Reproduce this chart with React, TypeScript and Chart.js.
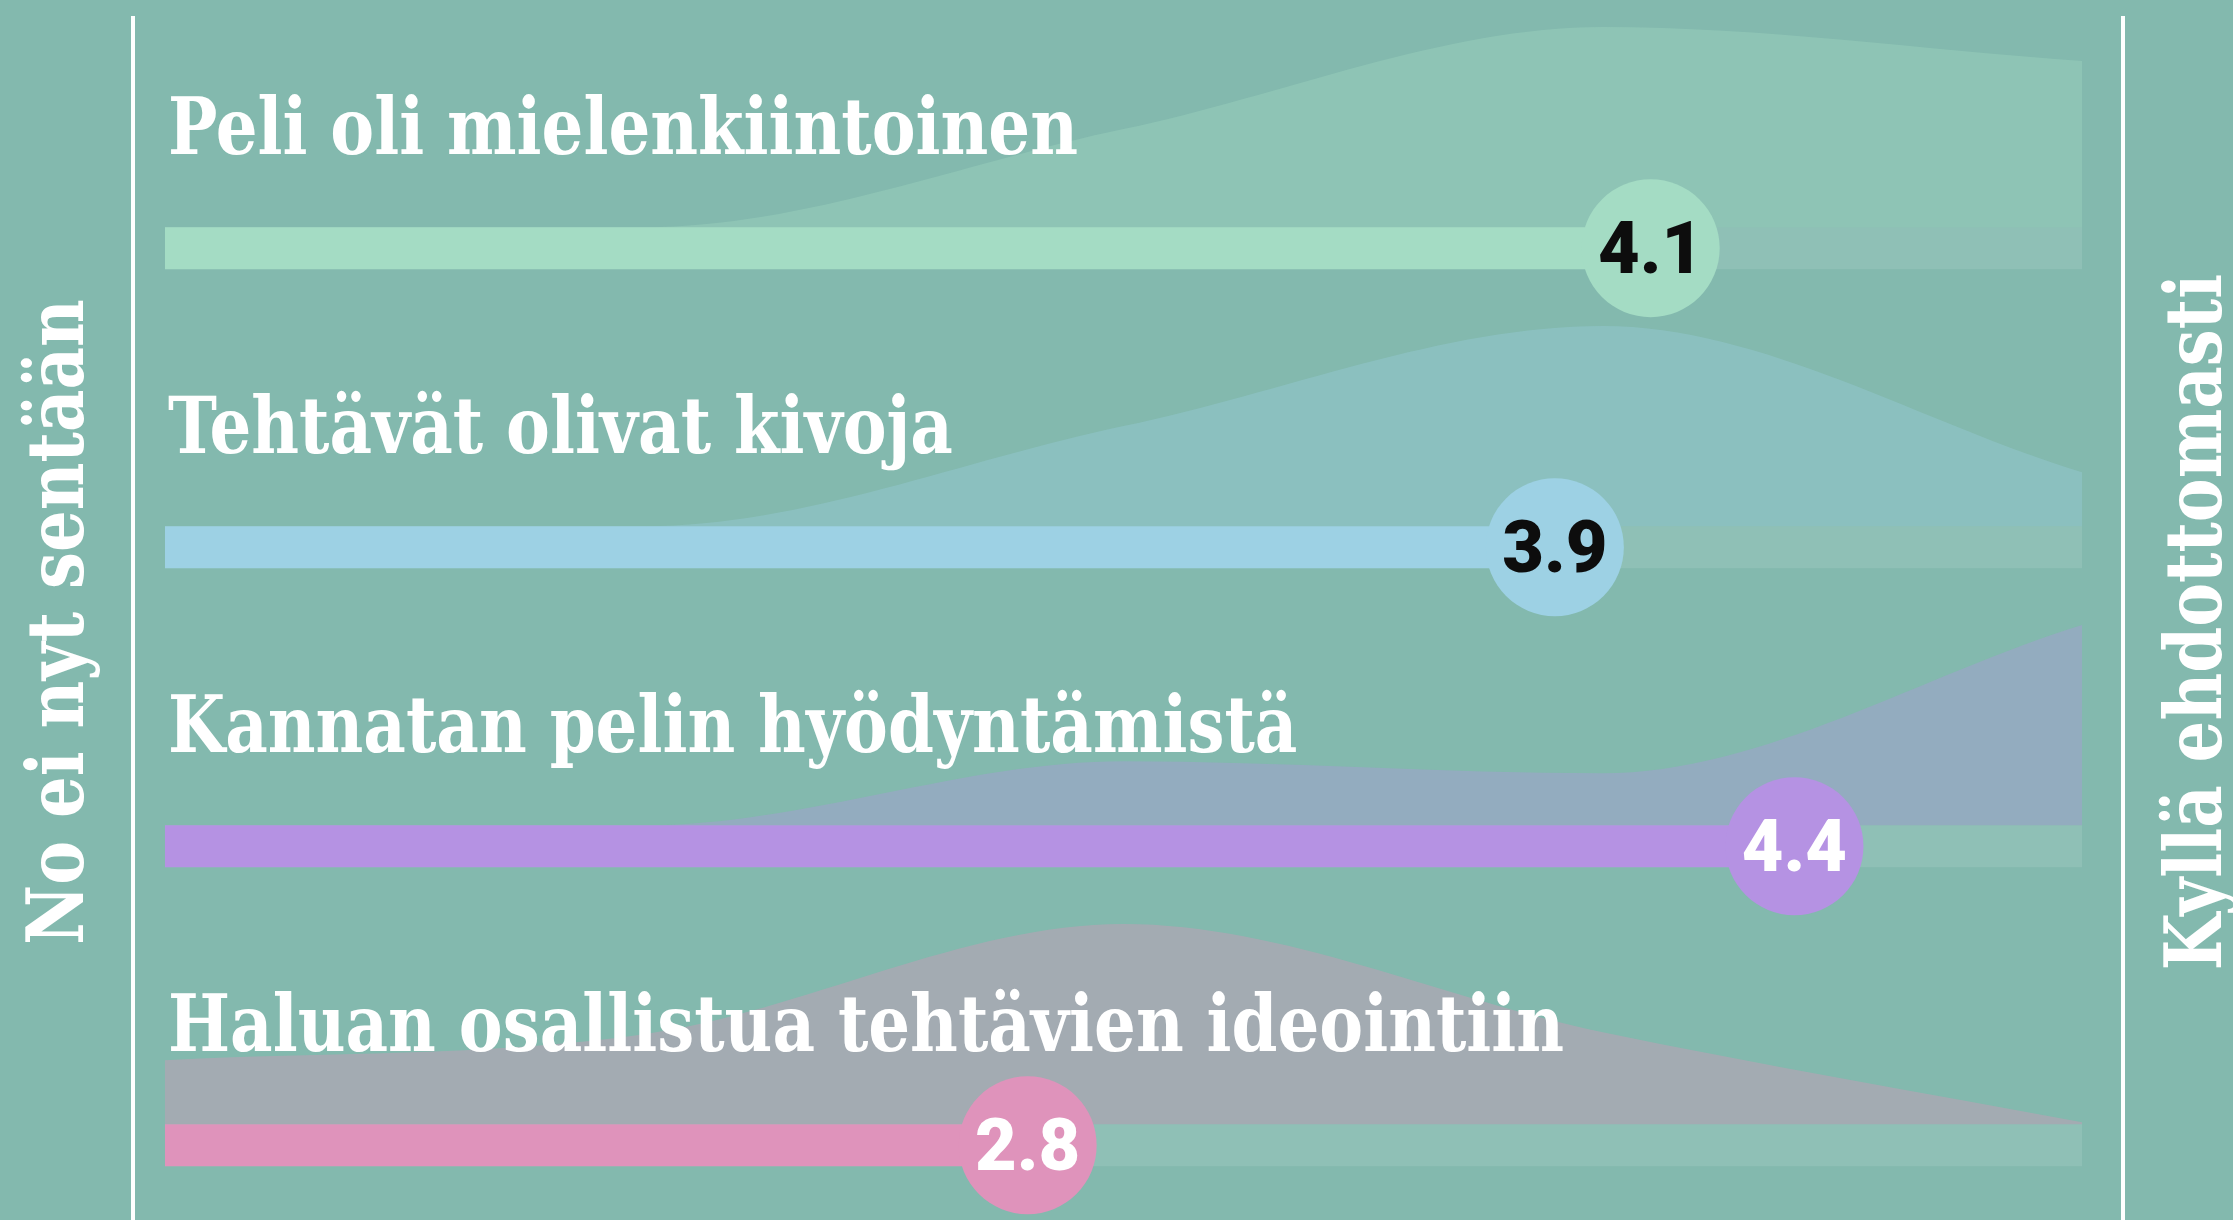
import React, { useEffect, useRef } from 'react';
import { Chart, registerables } from 'chart.js';

Chart.register(...registerables);

// ---- data ----
const CATEGORIES = [
  'Peli oli mielenkiintoinen',
  'Tehtävät olivat kivoja',
  'Kannatan pelin hyödyntämistä',
  'Haluan osallistua tehtävien ideointiin',
];
const MEANS = [4.1, 3.9, 4.4, 2.8];
const SCALE_POINTS = [1, 2, 3, 4, 5];
const SCALE_ENDS = ['No ei nyt sentään', 'Kyllä ehdottomasti'];
// relative answer distributions (share of the row's most common answer)
const DIST_INTERESTING = [0, 0, 0.49, 1, 0.83];
const DIST_TASKS = [0, 0, 0.5, 1, 0.27];
const DIST_USE = [0, 0, 0.32, 0.26, 1];
const DIST_IDEAS = [0.32, 0.45, 1, 0.46, 0.01];
const DISTRIBUTIONS = [DIST_INTERESTING, DIST_TASKS, DIST_USE, DIST_IDEAS];

// ---- style ----
const BG = '#83b9ae';
const BAR_COLORS = ['#a4dcc4', '#9dd1e4', '#b592e3', '#df93bb'];
const AREA_COLORS = [
  'rgba(164,220,196,0.32)',
  'rgba(157,209,228,0.32)',
  'rgba(181,146,227,0.32)',
  'rgba(223,147,187,0.36)',
];
const VALUE_TEXT_COLORS = ['#0d0d0d', '#0d0d0d', '#ffffff', '#ffffff'];
const TRACK_COLOR = 'rgba(255,255,255,0.10)';
const BAR_PX = 42;
const BAR_HALF = 0.07; // in row units
const AREA_H = 0.67; // in row units
const CIRCLE_R = 69;
const SERIF = 'bold 78px "DejaVu Serif", serif';
const VALUE_FONT = '900 72px Roboto, "DejaVu Sans", sans-serif';
const W = 2233;
const H = 1220;

const decorPlugin = {
  id: 'decor',
  beforeDraw(chart: any) {
    const ctx = chart.ctx;
    ctx.save();
    ctx.fillStyle = BG;
    ctx.fillRect(0, 0, chart.width, chart.height);
    ctx.restore();
  },
  beforeDatasetsDraw(chart: any) {
    const ctx = chart.ctx;
    const area = chart.chartArea;
    ctx.save();
    // frame lines
    ctx.fillStyle = '#ffffff';
    ctx.fillRect(area.left - 34, 16, 4, chart.height - 16);
    ctx.fillRect(area.right + 39, 16, 4, chart.height - 16);
    // squeeze factor for the serif face
    ctx.font = SERIF;
    const sx = 910 / ctx.measureText(CATEGORIES[0]).width;
    chart.$sx = sx;
    ctx.fillStyle = '#ffffff';
    ctx.textAlign = 'center';
    ctx.textBaseline = 'alphabetic';
    const midY = chart.height / 2 + 12;
    // left end label (value 1)
    ctx.save();
    ctx.translate(area.left - 82, midY);
    ctx.rotate(-Math.PI / 2);
    ctx.scale(sx, 1);
    ctx.fillText(SCALE_ENDS[0], 0, 0);
    ctx.restore();
    // right end label (value 5)
    ctx.save();
    ctx.translate(area.right + 139, midY);
    ctx.rotate(-Math.PI / 2);
    ctx.scale(sx, 1);
    ctx.fillText(SCALE_ENDS[1], 0, 0);
    ctx.restore();
    ctx.restore();
  },
  afterDatasetsDraw(chart: any) {
    const ctx = chart.ctx;
    const xs = chart.scales.x;
    const ys = chart.scales.y;
    const sx = chart.$sx || 1;
    ctx.save();
    CATEGORIES.forEach((label, i) => {
      const cy = ys.getPixelForValue(i);
      // category label
      ctx.save();
      ctx.font = SERIF;
      ctx.fillStyle = '#ffffff';
      ctx.textAlign = 'left';
      ctx.textBaseline = 'alphabetic';
      ctx.translate(xs.getPixelForValue(SCALE_POINTS[0]) + 3, cy - 94);
      ctx.scale(sx, 1);
      ctx.fillText(label, 0, 0);
      ctx.restore();
      // value in circle
      ctx.save();
      ctx.font = VALUE_FONT;
      ctx.fillStyle = VALUE_TEXT_COLORS[i];
      ctx.textAlign = 'center';
      ctx.textBaseline = 'alphabetic';
      ctx.fillText(MEANS[i].toFixed(1), xs.getPixelForValue(MEANS[i]), cy + 25);
      ctx.restore();
    });
    ctx.restore();
  },
};

export default function App() {
  const ref = useRef<HTMLCanvasElement | null>(null);
  useEffect(() => {
    document.body.style.margin = '0';
    document.body.style.background = BG;
    const canvas = ref.current;
    if (!canvas) return;
    const datasets: any[] = [];
    DISTRIBUTIONS.forEach((dist, i) => {
      datasets.push({
        label: 'dist' + i,
        data: SCALE_POINTS.map((x, k) => ({ x, y: i - BAR_HALF - dist[k] * AREA_H })),
        fill: { value: i - BAR_HALF },
        backgroundColor: AREA_COLORS[i],
        borderColor: 'transparent',
        borderWidth: 0,
        pointRadius: 0,
        cubicInterpolationMode: 'monotone',
        order: 10,
      });
      datasets.push({
        label: 'track' + i,
        data: [
          { x: SCALE_POINTS[0], y: i },
          { x: SCALE_POINTS[SCALE_POINTS.length - 1], y: i },
        ],
        fill: false,
        borderColor: TRACK_COLOR,
        borderWidth: BAR_PX,
        borderCapStyle: 'butt',
        pointRadius: 0,
        order: 5,
      });
      datasets.push({
        label: 'mean' + i,
        data: [
          { x: SCALE_POINTS[0], y: i },
          { x: MEANS[i], y: i },
        ],
        fill: false,
        borderColor: BAR_COLORS[i],
        borderWidth: BAR_PX,
        borderCapStyle: 'butt',
        pointRadius: [0, CIRCLE_R],
        pointBackgroundColor: BAR_COLORS[i],
        pointBorderColor: 'transparent',
        pointBorderWidth: 0,
        order: 1,
      });
    });
    const chart = new Chart(canvas, {
      type: 'line',
      data: { datasets },
      options: {
        animation: false,
        responsive: false,
        devicePixelRatio: 1,
        events: [],
        layout: { autoPadding: false, padding: { left: 165, right: 151, top: 0, bottom: 0 } },
        plugins: { legend: { display: false }, tooltip: { enabled: false } },
        scales: {
          x: { type: 'linear', min: 1, max: 5, display: false },
          y: { type: 'linear', min: -0.83, max: 3.25, reverse: true, display: false },
        },
      },
      plugins: [decorPlugin],
    } as any);
    return () => chart.destroy();
  }, []);
  return (
    <canvas ref={ref} width={W} height={H} style={{ display: 'block', width: W, height: H }} />
  );
}
